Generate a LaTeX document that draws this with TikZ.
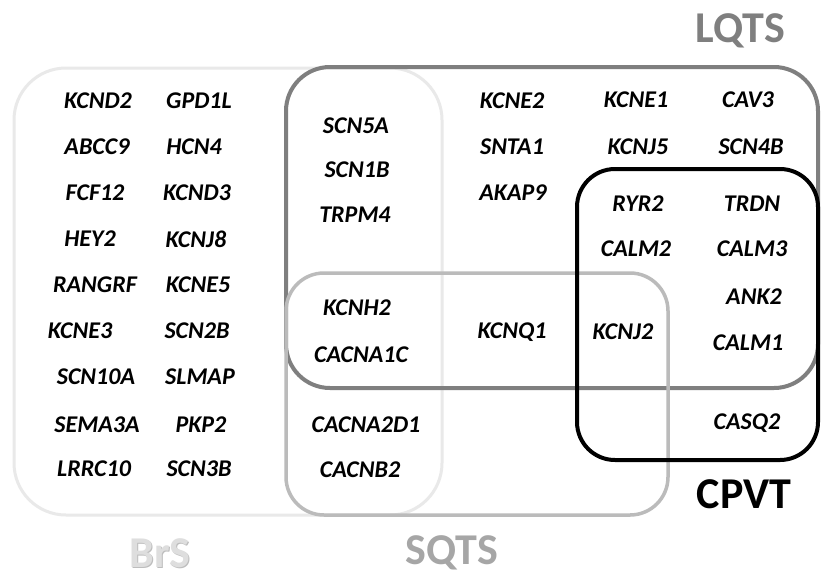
\documentclass[tikz,border=0pt]{standalone}
\usepackage{fontspec}
\setmainfont{Carlito}
\definecolor{brsline}{HTML}{E9E9E9}
\definecolor{brstext}{HTML}{DEDEDE}
\definecolor{brsshade}{HTML}{BDBDBD}
\definecolor{lqtsline}{HTML}{7F7F7F}
\definecolor{sqtsline}{HTML}{BBBBBB}
\definecolor{sqtstext}{HTML}{A6A6A6}
\tikzset{
  gene/.style={font=\fontsize{24}{27}\selectfont\bfseries\itshape, text=black, inner sep=0pt},
  setname/.style={font=\fontsize{44}{48}\selectfont\bfseries, inner sep=0pt},
  setbox/.style={rounded corners=#1, fill=none},
}
\begin{document}
\begin{tikzpicture}[x=1pt,y=-1pt]
\useasboundingbox (0,0) rectangle (821,576);
\fill[white] (0,0) rectangle (821,576);

% set outlines
\draw[setbox=52pt, brsline, line width=3pt] (14,68) rectangle (442,515);
\draw[setbox=44pt, lqtsline, line width=4pt] (286,67) rectangle (818,388);
\draw[setbox=38pt, sqtsline, line width=3.5pt] (286,273) rectangle (668,515);
\draw[setbox=38pt, black, line width=4pt] (577,169) rectangle (818,460);

% set names
\node[setname, text=lqtsline] (lqts) at (740,31) {LQTS};
\node[setname, text=black] (cpvt) at (744,494) {CPVT};
\node[setname, text=brsshade] (brsshadow) at (161,554) {BrS};
\node[setname, text=brstext] (brs) at (160,553) {BrS};
\node[setname, text=sqtstext] (sqts) at (452,553) {SQTS};

% BrS only, first column
\node[gene] (kcnd2) at (98,101) {KCND2};
\node[gene] (abcc9) at (97,147) {ABCC9};
\node[gene] (fcf12) at (95,193) {FCF12};
\node[gene] (hey2) at (90,239) {HEY2};
\node[gene] (rangrf) at (95,285) {RANGRF};
\node[gene] (kcne3) at (80,331) {KCNE3};
\node[gene] (scn10a) at (96,377) {SCN10A};
\node[gene] (sema3a) at (97,425) {SEMA3A};
\node[gene] (lrrc10) at (94,469) {LRRC10};
% BrS only, second column
\node[gene] (gpd1l) at (199,101) {GPD1L};
\node[gene] (hcn4) at (194,147) {HCN4};
\node[gene] (kcnd3) at (197,193) {KCND3};
\node[gene] (kcnj8) at (196,239) {KCNJ8};
\node[gene] (kcne5) at (198,285) {KCNE5};
\node[gene] (scn2b) at (197,331) {SCN2B};
\node[gene] (slmap) at (200,377) {SLMAP};
\node[gene] (pkp2) at (201,425) {PKP2};
\node[gene] (scn3b) at (199,469) {SCN3B};

% BrS and LQTS
\node[gene] (scn5a) at (356,126) {SCN5A};
\node[gene] (scn1b) at (357,170) {SCN1B};
\node[gene] (trpm4) at (355,215) {TRPM4};
% BrS, LQTS and SQTS
\node[gene] (kcnh2) at (357,308) {KCNH2};
\node[gene] (cacna1c) at (361,355) {CACNA1C};
% BrS and SQTS
\node[gene] (cacna2d1) at (366,425) {CACNA2D1};
\node[gene] (cacnb2) at (360,470) {CACNB2};

% LQTS only
\node[gene] (kcne2) at (512,101) {KCNE2};
\node[gene] (snta1) at (512,147) {SNTA1};
\node[gene] (akap9) at (513,193) {AKAP9};
\node[gene] (kcne1) at (636,100) {KCNE1};
\node[gene] (cav3) at (748,100) {CAV3};
\node[gene] (kcnj5) at (638,147) {KCNJ5};
\node[gene] (scn4b) at (751,147) {SCN4B};
% LQTS and SQTS
\node[gene] (kcnq1) at (512,332) {KCNQ1};
% LQTS, SQTS and CPVT
\node[gene] (kcnj2) at (623,332) {KCNJ2};
% LQTS and CPVT
\node[gene] (ryr2) at (638,204) {RYR2};
\node[gene] (trdn) at (752,204) {TRDN};
\node[gene] (calm2) at (636,249) {CALM2};
\node[gene] (calm3) at (752,249) {CALM3};
\node[gene] (ank2) at (754,297) {ANK2};
\node[gene] (calm1) at (748,343) {CALM1};
% CPVT only
\node[gene] (casq2) at (747,423) {CASQ2};
\end{tikzpicture}
\end{document}
